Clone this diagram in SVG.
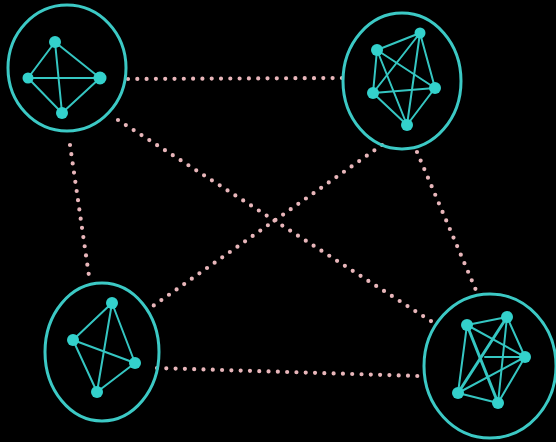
<svg xmlns="http://www.w3.org/2000/svg" width="556" height="442" viewBox="0 0 556 442">
<style>
.ring{fill:none;stroke:#3cc9c5;stroke-width:3}
.e{stroke:#35c6c2;stroke-width:2;stroke-linecap:round}
.n{fill:#33d1cc}
.c{stroke:#e8b6ba;stroke-width:4.2;stroke-linecap:round;stroke-dasharray:0 9.3;fill:none}
</style>
<rect width="556" height="442" fill="#000"/>
<g id="connectors">
<line class="c" x1="128" y1="79" x2="343" y2="78"/>
<line class="c" x1="70" y1="145" x2="90" y2="283"/>
<line class="c" x1="417" y1="152" x2="478" y2="295"/>
<line class="c" x1="157" y1="368" x2="418" y2="376"/>
<line class="c" x1="118" y1="120" x2="437" y2="325"/>
<line class="c" x1="382" y1="145" x2="153" y2="306"/>
</g>
<g id="cluster-top-left">
<ellipse class="ring" cx="67" cy="68" rx="59" ry="63"/>
<line class="e" x1="55" y1="42" x2="28" y2="78"/>
<line class="e" x1="55" y1="42" x2="100" y2="78"/>
<line class="e" x1="55" y1="42" x2="62" y2="113"/>
<line class="e" x1="28" y1="78" x2="100" y2="78"/>
<line class="e" x1="28" y1="78" x2="62" y2="113"/>
<line class="e" x1="100" y1="78" x2="62" y2="113"/>
<circle class="n" cx="55" cy="42" r="6"/>
<circle class="n" cx="28" cy="78" r="5.5"/>
<circle class="n" cx="100" cy="78" r="6.5"/>
<circle class="n" cx="62" cy="113" r="6"/>
</g>
<g id="cluster-top-right">
<ellipse class="ring" cx="402" cy="81" rx="59" ry="68"/>
<line class="e" x1="377" y1="50" x2="420" y2="33"/>
<line class="e" x1="377" y1="50" x2="373" y2="93"/>
<line class="e" x1="377" y1="50" x2="435" y2="88"/>
<line class="e" x1="377" y1="50" x2="407" y2="125"/>
<line class="e" x1="420" y1="33" x2="373" y2="93"/>
<line class="e" x1="420" y1="33" x2="435" y2="88"/>
<line class="e" x1="420" y1="33" x2="407" y2="125"/>
<line class="e" x1="373" y1="93" x2="435" y2="88"/>
<line class="e" x1="373" y1="93" x2="407" y2="125"/>
<line class="e" x1="435" y1="88" x2="407" y2="125"/>
<circle class="n" cx="377" cy="50" r="6"/>
<circle class="n" cx="420" cy="33" r="5.5"/>
<circle class="n" cx="373" cy="93" r="6"/>
<circle class="n" cx="435" cy="88" r="6"/>
<circle class="n" cx="407" cy="125" r="6"/>
</g>
<g id="cluster-bottom-left">
<ellipse class="ring" cx="102" cy="352" rx="57" ry="69"/>
<line class="e" x1="112" y1="303" x2="73" y2="340"/>
<line class="e" x1="112" y1="303" x2="135" y2="363"/>
<line class="e" x1="112" y1="303" x2="97" y2="392"/>
<line class="e" x1="73" y1="340" x2="135" y2="363"/>
<line class="e" x1="73" y1="340" x2="97" y2="392"/>
<line class="e" x1="135" y1="363" x2="97" y2="392"/>
<circle class="n" cx="112" cy="303" r="6"/>
<circle class="n" cx="73" cy="340" r="6"/>
<circle class="n" cx="135" cy="363" r="6"/>
<circle class="n" cx="97" cy="392" r="6"/>
</g>
<g id="cluster-bottom-right">
<ellipse class="ring" cx="490" cy="366" rx="66" ry="72"/>
<line class="e" x1="467" y1="325" x2="507" y2="317"/>
<line class="e" x1="467" y1="325" x2="525" y2="357"/>
<line class="e" x1="467" y1="325" x2="458" y2="393"/>
<line class="e" x1="467" y1="325" x2="498" y2="403" style="stroke-width:3"/>
<line class="e" x1="507" y1="317" x2="525" y2="357"/>
<line class="e" x1="507" y1="317" x2="458" y2="393" style="stroke-width:3"/>
<line class="e" x1="507" y1="317" x2="498" y2="403"/>
<line class="e" x1="525" y1="357" x2="458" y2="393"/>
<line class="e" x1="525" y1="357" x2="498" y2="403"/>
<line class="e" x1="458" y1="393" x2="498" y2="403"/>
<line class="e" x1="485" y1="357" x2="525" y2="357"/>
<circle class="n" cx="467" cy="325" r="6"/>
<circle class="n" cx="507" cy="317" r="6"/>
<circle class="n" cx="525" cy="357" r="6"/>
<circle class="n" cx="458" cy="393" r="6"/>
<circle class="n" cx="498" cy="403" r="6"/>
</g>
</svg>
